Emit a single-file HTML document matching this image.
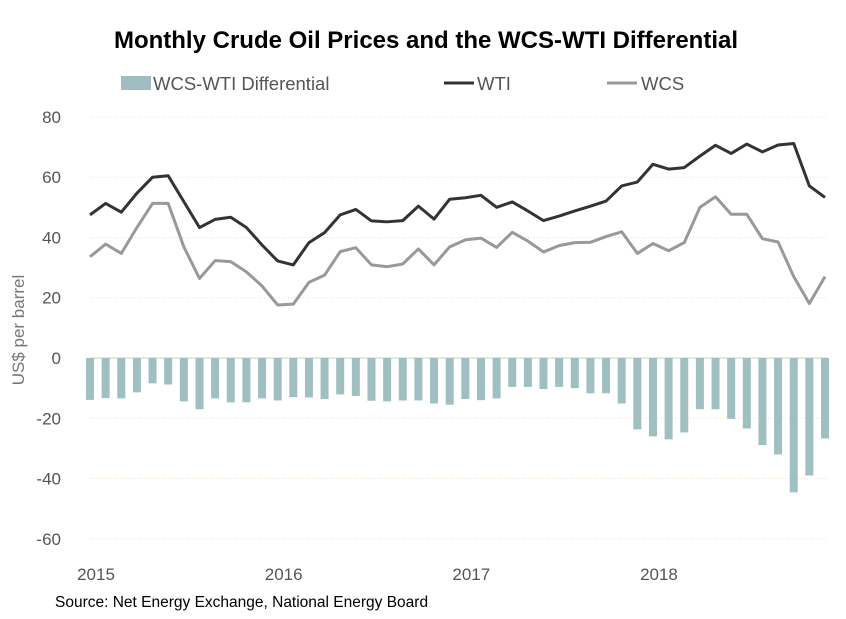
<!DOCTYPE html>
<html><head><meta charset="utf-8"><style>
body{margin:0;background:#fff;}
svg{display:block;font-family:"Liberation Sans",sans-serif;}
</style></head><body>
<svg id="chart" width="846" height="619">
<text x="426" y="48" text-anchor="middle" font-size="24" font-weight="bold" fill="#000">Monthly Crude Oil Prices and the WCS-WTI Differential</text>
<g>
<rect x="121" y="76" width="30" height="14" fill="#9fbcc3"/>
<text x="153" y="90" font-size="18.5" fill="#555">WCS-WTI Differential</text>
<line x1="444" y1="83" x2="474" y2="83" stroke="#333" stroke-width="3"/>
<text x="477" y="90" font-size="18.5" fill="#555">WTI</text>
<line x1="607" y1="83" x2="637" y2="83" stroke="#999" stroke-width="3"/>
<text x="641" y="90" font-size="18.5" fill="#555">WCS</text>
</g>
<text transform="translate(24,330) rotate(-90)" text-anchor="middle" font-size="17" fill="#777">US$ per barrel</text>
<g id="grid"></g><g id="bars"></g><g id="lines"></g><g id="axes"></g>
<text x="55" y="607" font-size="15.5" fill="#000">Source: Net Energy Exchange, National Energy Board</text>
</svg>
<script>
const yTicks=[80,60,40,20,0,-20,-40,-60];
const yearLabels=["2015","2016","2017","2018"];
const wti=[47.5,51.3,48.4,54.7,60,60.5,51.9,43.3,46,46.7,43.3,37.5,32.2,30.9,38.3,41.6,47.5,49.3,45.5,45.2,45.6,50.4,46.1,52.7,53.2,54,50,51.8,48.8,45.6,47.1,48.8,50.4,52.1,57.1,58.4,64.3,62.7,63.2,67,70.6,67.9,71,68.4,70.7,71.2,57.1,53.3];
const wcs=[33.6,37.8,34.7,43.3,51.3,51.3,36.9,26.4,32.3,32,28.6,23.9,17.6,17.9,25.1,27.5,35.3,36.6,30.9,30.3,31.2,36.2,30.9,36.9,39.2,39.8,36.7,41.7,38.8,35.2,37.3,38.3,38.4,40.3,41.9,34.7,38,35.6,38.3,50,53.5,47.7,47.7,39.6,38.5,27,18.1,27];
const diff=[-13.9,-13.3,-13.4,-11.4,-8.4,-8.8,-14.4,-17,-13.4,-14.7,-14.7,-13.4,-14.1,-13,-13.1,-13.6,-12.1,-12.6,-14.2,-14.4,-14.1,-14.1,-15.1,-15.5,-13.6,-14,-13.4,-9.6,-9.6,-10.3,-9.6,-10,-11.7,-11.7,-15.1,-23.7,-26,-27,-24.7,-17,-17,-20.2,-23.4,-28.9,-32,-44.6,-39,-26.7];
const NS='http://www.w3.org/2000/svg';
const x0=90,x1=825,n=wti.length;
const xs=i=>x0+(x1-x0)*i/(n-1);
const ys=v=>358-v*3.013;
function mk(t,a,p){const e=document.createElementNS(NS,t);for(const k in a)e.setAttribute(k,a[k]);document.getElementById(p).appendChild(e);return e;}
yTicks.forEach(t=>{
 const g=mk('line',{x1:x0,x2:828,y1:ys(t),y2:ys(t),stroke:t===0?'#b8d8c0':'#f3dcc0','stroke-width':1,'stroke-dasharray':t===0?'':'1,2'},'grid');
 
 
 const l=mk('text',{x:61,y:ys(t)+6,'text-anchor':'end','font-size':17,fill:'#555'},'axes');
 l.textContent=t;
 
 
});
yearLabels.forEach((y,k)=>{
 const l=mk('text',{x:xs(k*12)+6,y:580,'text-anchor':'middle','font-size':17,fill:'#555'},'axes');
 l.textContent=y;
 
 
});
diff.forEach((d,i)=>{
 const b=mk('rect',{x:xs(i)-4,y:ys(0),width:8,height:ys(d)-ys(0),fill:'#9fbfc0'},'bars');
 
 
});
function line(arr,col,name){
 const p=mk('polyline',{points:arr.map((v,i)=>xs(i)+','+ys(v)).join(' '),fill:'none',stroke:col,'stroke-width':3,'stroke-linejoin':'round'},'lines');
 
 
}
line(wcs,'#999','wcs-line');
line(wti,'#333','wti-line');
</script>
</body></html>
